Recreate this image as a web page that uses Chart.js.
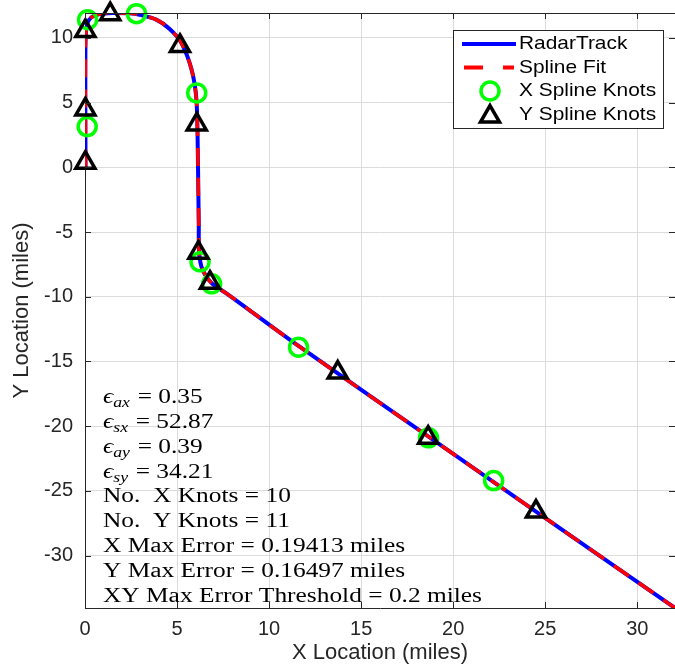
<!DOCTYPE html>
<html>
<head>
<meta charset="utf-8">
<script src="https://cdn.jsdelivr.net/npm/chart.js@4.4.1/dist/chart.umd.min.js"></script>
<style>
  html, body { margin: 0; padding: 0; background: #fff; }
  canvas { display: block; }
</style>
</head>
<body>
<canvas id="chart" width="675" height="669"></canvas>
<script>
// Radar track
const trackX = [0.03, 0.02, 0.02, 0.04, 0.12, 0.35, 0.8, 1.5, 2.3, 3.1, 3.9, 4.6, 5.2, 5.7, 5.97, 6.08, 6.14, 6.18, 6.2, 6.38, 6.88, 7.7, 11.6, 18.7, 24.5, 32.05];
const trackY = [0.0, 4.0, 8.5, 10.2, 11.1, 11.6, 11.85, 11.93, 11.92, 11.75, 11.4, 10.7, 9.7, 8.0, 6.3, 4.5, 0.0, -4.5, -6.6, -7.9, -8.95, -9.75, -13.8, -20.85, -26.6, -34.05];

// Knots
const xKnotX = [0.12, 0.14, 2.8, 6.07, 6.25, 6.88, 11.6, 18.66, 22.2];
const xKnotY = [3.15, 11.41, 11.88, 5.75, -7.3, -9.0, -13.9, -20.9, -24.2];
const yKnotX = [0.02, 0.02, 0.02, 1.37, 5.16, 6.07, 6.16, 6.79, 13.73, 18.64, 24.5];
const yKnotY = [0.36, 4.48, 10.54, 11.84, 9.38, 3.32, -6.59, -8.91, -15.86, -20.89, -26.6];

// Axes
const xLimits = [0, 32.05];
const yLimits = [-34.05, 11.93];
const tickStep = 5;

// Fit statistics
const epsNames = ['ax', 'sx', 'ay', 'sy'];
const epsValues = ['0.35', '52.87', '0.39', '34.21'];
const knotCounts = [10, 11];
const maxErrors = ['0.19413', '0.16497'];
const errThreshold = '0.2';

const legendLabels = ['RadarTrack', 'Spline Fit', 'X Spline Knots', 'Y Spline Knots'];

const axisColor = '#262626';
const toPoints = (xs, ys) => xs.map((x, i) => ({ x: x, y: ys[i] }));

// Marcas interiores y borde superior
const framePlugin = {
    id: 'frame',
    afterDatasetsDraw(chart) {
        const ctx = chart.ctx;
        const a = chart.chartArea;
        const xs = chart.scales.x, ys = chart.scales.y;
        const tl = 6;
        ctx.save();
        ctx.strokeStyle = axisColor;
        ctx.lineWidth = 1;
        ctx.beginPath();
        const top = Math.round(a.top) + 0.5;
        ctx.moveTo(a.left, top);
        ctx.lineTo(a.right, top);
        xs.ticks.forEach(t => {
            const px = Math.round(xs.getPixelForValue(t.value)) + 0.5;
            ctx.moveTo(px, a.bottom);
            ctx.lineTo(px, a.bottom - tl);
            ctx.moveTo(px, a.top);
            ctx.lineTo(px, a.top + tl);
        });
        ys.ticks.forEach(t => {
            const py = Math.round(ys.getPixelForValue(t.value)) + 0.5;
            ctx.moveTo(a.left, py);
            ctx.lineTo(a.left + tl, py);
            ctx.moveTo(a.right, py);
            ctx.lineTo(a.right - tl, py);
        });
        ctx.stroke();
        ctx.restore();
    }
};

// Texto con estadisticas del ajuste
const statsPlugin = {
    id: 'stats',
    afterDatasetsDraw(chart) {
        const ctx = chart.ctx;
        const serif = '"Liberation Serif", "DejaVu Serif", serif';
        const lines = [];
        epsNames.forEach((n, i) => {
            lines.push([
                { t: '\u03f5', f: 'italic 20px ' + serif, dy: 0 },
                { t: n, f: 'italic 14px ' + serif, dy: 4 },
                { t: ' = ' + epsValues[i], f: '20px ' + serif, dy: 0 }
            ]);
        });
        lines.push([{ t: 'No.  X Knots = ' + knotCounts[0], f: '20px ' + serif, dy: 0 }]);
        lines.push([{ t: 'No.  Y Knots = ' + knotCounts[1], f: '20px ' + serif, dy: 0 }]);
        lines.push([{ t: 'X Max Error = ' + maxErrors[0] + ' miles', f: '20px ' + serif, dy: 0 }]);
        lines.push([{ t: 'Y Max Error = ' + maxErrors[1] + ' miles', f: '20px ' + serif, dy: 0 }]);
        lines.push([{ t: 'XY Max Error Threshold = ' + errThreshold + ' miles', f: '20px ' + serif, dy: 0 }]);

        ctx.save();
        ctx.font = '20px ' + serif;
        const sx = 379 / ctx.measureText(lines[8][0].t).width;
        ctx.fillStyle = '#000';
        ctx.textBaseline = 'alphabetic';
        lines.forEach((parts, i) => {
            ctx.save();
            ctx.translate(103, 403 + i * 24.84);
            ctx.scale(sx, 1);
            let x = 0;
            parts.forEach(p => {
                ctx.font = p.f;
                ctx.fillText(p.t, x, p.dy);
                x += ctx.measureText(p.t).width + (p.dy ? 1 : 0);
            });
            ctx.restore();
        });
        ctx.restore();
    }
};

// Leyenda dentro del grafico
const legendPlugin = {
    id: 'boxLegend',
    afterDraw(chart) {
        const ctx = chart.ctx;
        const left = 453.5, top = 30.5, w = 210, h = 98;
        const rows = [44, 67.5, 91, 114.5];
        ctx.save();
        ctx.fillStyle = '#fff';
        ctx.fillRect(left, top, w, h);
        ctx.strokeStyle = axisColor;
        ctx.lineWidth = 1;
        ctx.strokeRect(left, top, w, h);

        // RadarTrack
        ctx.strokeStyle = '#0000ff';
        ctx.lineWidth = 4;
        ctx.beginPath();
        ctx.moveTo(462, rows[0]);
        ctx.lineTo(516, rows[0]);
        ctx.stroke();
        // Spline Fit
        ctx.strokeStyle = '#ff0000';
        ctx.setLineDash([19, 20]);
        ctx.beginPath();
        ctx.moveTo(464, rows[1]);
        ctx.lineTo(514, rows[1]);
        ctx.stroke();
        ctx.setLineDash([]);
        // Marcadores
        ctx.strokeStyle = '#00ff00';
        ctx.lineWidth = 3.5;
        Chart.helpers.drawPoint(ctx, { pointStyle: 'circle', radius: 9, borderWidth: 3.5, rotation: 0 }, 490, rows[2]);
        ctx.strokeStyle = '#000';
        Chart.helpers.drawPoint(ctx, { pointStyle: 'triangle', radius: 11, borderWidth: 3.5, rotation: 0 }, 490, rows[3] + 2);

        ctx.fillStyle = '#000';
        ctx.font = '19px "Liberation Sans", Arial, sans-serif';
        ctx.textBaseline = 'middle';
        legendLabels.forEach((lab, i) => {
            ctx.save();
            ctx.translate(519, rows[i]);
            ctx.scale(1.1, 1);
            ctx.fillText(lab, 0, 0);
            ctx.restore();
        });
        ctx.restore();
    }
};

const ctx = document.getElementById('chart').getContext('2d');
new Chart(ctx, {
    type: 'scatter',
    data: {
        datasets: [
            {
                label: legendLabels[0],
                data: toPoints(trackX, trackY),
                showLine: true,
                borderColor: '#0000ff',
                borderWidth: 4,
                pointRadius: 0,
                tension: 0.3,
                order: 4
            },
            {
                label: legendLabels[1],
                data: toPoints(trackX, trackY),
                showLine: true,
                borderColor: '#ff0000',
                borderWidth: 3.5,
                borderDash: [18, 12],
                pointRadius: 0,
                tension: 0.3,
                order: 3
            },
            {
                label: legendLabels[2],
                data: toPoints(xKnotX, xKnotY),
                pointStyle: 'circle',
                pointRadius: 9,
                borderWidth: 3.5,
                borderColor: '#00ff00',
                backgroundColor: 'rgba(0,0,0,0)',
                clip: false,
                order: 2
            },
            {
                label: legendLabels[3],
                data: toPoints(yKnotX, yKnotY),
                pointStyle: 'triangle',
                pointRadius: 11,
                borderWidth: 3.5,
                borderColor: '#000000',
                backgroundColor: 'rgba(0,0,0,0)',
                clip: false,
                order: 1
            }
        ]
    },
    options: {
        responsive: false,
        animation: false,
        devicePixelRatio: 1,
        layout: { autoPadding: false, padding: { top: 13, right: 0, left: 0, bottom: 0 } },
        plugins: {
            legend: { display: false },
            tooltip: { enabled: false }
        },
        scales: {
            x: {
                type: 'linear',
                min: xLimits[0],
                max: xLimits[1],
                afterFit(scale) {
                    scale.height = 61;
                    scale.paddingLeft = 0;
                    scale.paddingRight = 0;
                },
                ticks: {
                    stepSize: tickStep,
                    includeBounds: false,
                    maxRotation: 0,
                    padding: 9,
                    color: axisColor,
                    font: { family: '"Liberation Sans", Arial, sans-serif', size: 20 }
                },
                grid: { color: '#dcdcdc', drawTicks: false },
                border: { color: axisColor, width: 1 },
                title: {
                    display: true,
                    text: 'X Location (miles)',
                    color: axisColor,
                    font: { family: '"Liberation Sans", Arial, sans-serif', size: 22 },
                    padding: { top: 0, bottom: 3 }
                }
            },
            y: {
                type: 'linear',
                min: yLimits[0],
                max: yLimits[1],
                afterFit(scale) {
                    scale.width = 85;
                    scale.paddingTop = 0;
                    scale.paddingBottom = 0;
                },
                ticks: {
                    stepSize: tickStep,
                    includeBounds: false,
                    padding: 12,
                    color: axisColor,
                    font: { family: '"Liberation Sans", Arial, sans-serif', size: 20 }
                },
                grid: { color: '#dcdcdc', drawTicks: false },
                border: { color: axisColor, width: 1 },
                title: {
                    display: true,
                    text: 'Y Location (miles)',
                    color: axisColor,
                    font: { family: '"Liberation Sans", Arial, sans-serif', size: 22 },
                    padding: { top: 9, bottom: 0 }
                }
            }
        }
    },
    plugins: [framePlugin, statsPlugin, legendPlugin]
});
</script>
</body>
</html>
